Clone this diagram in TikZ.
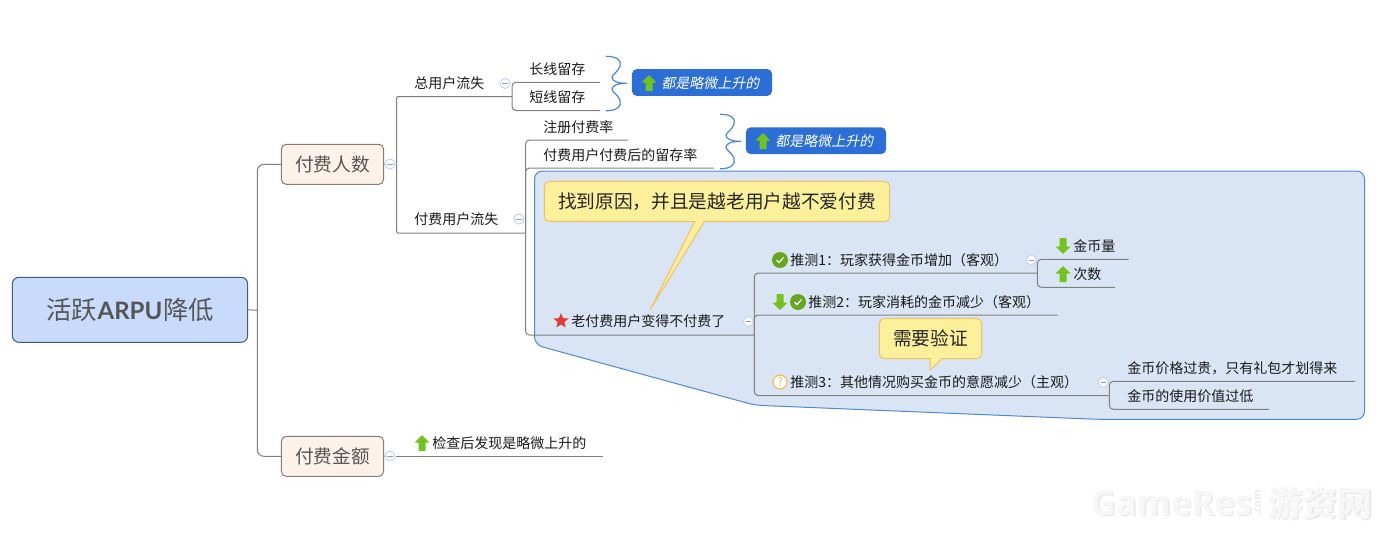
\documentclass[tikz,border=0pt]{standalone}
\usepackage{fontspec}
\setmainfont{Noto Sans CJK SC}
\newfontfamily\latinroot{Lato}[BoldFont=* Bold]
\newfontfamily\slantcjk[FakeSlant=0.2]{Noto Sans CJK SC}
\newfontfamily\markfont{Open Sans}
\usetikzlibrary{shapes.geometric}
\definecolor{linegrey}{HTML}{808080}
\definecolor{groupfill}{HTML}{D9E5F4}
\definecolor{groupedge}{HTML}{4F8BCB}
\definecolor{rootfill}{HTML}{C8DBFB}
\definecolor{rootedge}{HTML}{3F5A8C}
\definecolor{mainfill}{HTML}{FDF2E9}
\definecolor{mainedge}{HTML}{8A7A70}
\definecolor{tagblue}{HTML}{2B6FD6}
\definecolor{bracecol}{HTML}{4A86DC}
\definecolor{notefill}{HTML}{FDF09B}
\definecolor{noteedge}{HTML}{F2C062}
\definecolor{icongreen}{HTML}{72C41C}
\definecolor{checkgreen}{HTML}{67A621}
\definecolor{staricon}{HTML}{E53935}
\definecolor{darktext}{HTML}{555555}
\definecolor{collapseedge}{HTML}{C5D3F0}
\definecolor{collapsebar}{HTML}{8F9DB8}
\def\x{0.026359}
\def\y{-0.026359}
\tikzset{
  link/.style={draw=linegrey,line width=0.75pt,rounded corners=3pt},
  trunk/.style={link,rounded corners=5pt},
  sqlink/.style={link,rounded corners=1pt},
  topic/.style={anchor=west,inner sep=0,xshift=-0.75pt,text=black!90,font=\fontsize{10.5}{12}\selectfont,text height=9pt,text depth=1.5pt},
  rootbox/.style={draw=rootedge,fill=rootfill,rounded corners=5pt,line width=0.75pt,text=darktext,
    minimum width=176.5pt,minimum height=48.75pt,inner sep=0,font=\fontsize{19}{21}\selectfont},
  mainbox/.style={draw=mainedge,fill=mainfill,rounded corners=3.5pt,line width=0.75pt,text=darktext,
    minimum width=76.5pt,minimum height=30pt,inner sep=0,font=\fontsize{14}{16}\selectfont},
  tagbox/.style={fill=tagblue,rounded corners=3.5pt,minimum width=105pt,minimum height=20pt,inner sep=0},
  tagtext/.style={anchor=west,inner sep=0,text=white,font=\fontsize{10.5}{12}\slantcjk},
  notebox/.style={draw=noteedge,fill=notefill,rounded corners=4pt,line width=0.75pt,inner sep=0,
    text=black!85,font=\fontsize{14}{16}\selectfont},
  notetail/.style={draw=noteedge,fill=notefill,line width=0.75pt},
  collapse/.style={circle,draw=collapseedge,fill=white,line width=0.75pt,minimum size=7.5pt,inner sep=0,
    path picture={\draw[collapsebar,line width=0.75pt] (-2pt,0) -- (2pt,0);}},
  staricon/.style={star,star points=5,star point ratio=2.3,fill=staricon,minimum size=12pt,inner sep=0},
  askicon/.style={circle,draw=noteedge,fill=white,line width=1pt,minimum size=10.5pt,inner sep=0,
    text=noteedge,font=\fontsize{9}{9}\selectfont},
  arrowup/.pic={
    \fill[icongreen,rounded corners=0.5pt] (0*\x,-8*\y) -- (7.5*\x,-0.5*\y) -- (3.5*\x,-0.5*\y) -- (3.5*\x,8*\y)
      -- (-3.5*\x,8*\y) -- (-3.5*\x,-0.5*\y) -- (-7.5*\x,-0.5*\y) -- cycle;
  },
  arrowdown/.pic={
    \fill[icongreen,rounded corners=0.5pt] (0*\x,8*\y) -- (7.5*\x,0.5*\y) -- (3.5*\x,0.5*\y) -- (3.5*\x,-8*\y)
      -- (-3.5*\x,-8*\y) -- (-3.5*\x,0.5*\y) -- (-7.5*\x,0.5*\y) -- cycle;
  },
  checkicon/.pic={
    \fill[checkgreen] (0,0) circle (6pt);
    \draw[white,line width=0.9pt] (-3.5*\x,0*\y) -- (-1*\x,2.5*\y) -- (3.5*\x,-2.5*\y);
  },
  bracket/.pic={
    \draw[bracecol,line width=0.9pt] (0*\x,-27*\y) .. controls (11*\x,-27*\y) and (16*\x,-23*\y) .. (14*\x,-17*\y)
      .. controls (12*\x,-11*\y) and (6*\x,-9*\y) .. (6*\x,-6*\y)
      .. controls (6*\x,-2*\y) and (12*\x,0*\y) .. (21*\x,0*\y)
      .. controls (12*\x,0*\y) and (6*\x,2*\y) .. (6*\x,6*\y)
      .. controls (6*\x,9*\y) and (12*\x,11*\y) .. (14*\x,17*\y)
      .. controls (16*\x,23*\y) and (11*\x,27.5*\y) .. (0*\x,27.5*\y);
  }
}
\begin{document}
\begin{tikzpicture}
    \useasboundingbox (0*\x,0*\y) rectangle (1397*\x,535*\y);
    % watermark
    \node [inner sep=0,anchor=west,text=black!9,font=\fontsize{26}{28}\markfont\bfseries] (W0) at (1092*\x,504.5*\y) {GameRes};
    \node [inner sep=0,anchor=west,text=black!3,font=\fontsize{26}{28}\markfont\bfseries] (W1) at (1090.5*\x,503*\y) {GameRes};
    \node [inner sep=0,rotate=90,text=black!8,font=\fontsize{8}{9}\markfont\bfseries] (W2) at (1258*\x,503*\y) {.com};
    \node [inner sep=0,anchor=west,text=black!9,font=\fontsize{26}{28}\selectfont\bfseries] (W3) at (1269.5*\x,504.5*\y) {游资网};
    \node [inner sep=0,anchor=west,text=black!3,font=\fontsize{26}{28}\selectfont\bfseries] (W4) at (1268*\x,503*\y) {游资网};
    % boundary
    \draw [fill=groupfill,draw=groupedge,line width=0.75pt,rounded corners=6pt]
      (534.5*\x,171*\y) -- (1364.5*\x,171*\y) -- (1364.5*\x,419.3*\y) -- (1097*\x,419.3*\y)
      -- (755*\x,405.2*\y) -- (534.5*\x,344.7*\y) -- cycle;
    % main topics
    \node [rootbox] (A0_0) at (130*\x,309.8*\y) {\raisebox{-0.75pt}{活跃\kern0.5pt{\latinroot\fontsize{18}{20}\selectfont\bfseries ARPU}\kern0.5pt降低}};
    \node [mainbox] (A1_0) at (332.5*\x,164.3*\y) {付费人数};
    \node [mainbox] (A1_1) at (332.5*\x,456.3*\y) {付费金额};
    % collapse marks
    \node [collapse] (C1_0) at (390*\x,164*\y) {};
    \node [collapse] (C1_1) at (390*\x,456*\y) {};
    \node [collapse] (C2_0) at (505*\x,83.5*\y) {};
    \node [collapse] (C2_1) at (519*\x,219*\y) {};
    \node [collapse] (C3_0) at (748.3*\x,321.5*\y) {};
    \node [collapse] (C4_0) at (1031.3*\x,260*\y) {};
    \node [collapse] (C4_1) at (1103.3*\x,382.3*\y) {};
    % subtopics
    \node [topic] (A2_0) at (415*\x,83*\y) {总用户流失};
    \node [topic] (A2_1) at (415*\x,219.5*\y) {付费用户流失};
    \node [topic] (A2_2) at (433*\x,443*\y) {检查后发现是略微上升的};
    \node [topic] (A3_0) at (530*\x,69*\y) {长线留存};
    \node [topic] (A3_1) at (530*\x,97*\y) {短线留存};
    \node [topic] (A3_2) at (544*\x,127*\y) {注册付费率};
    \node [topic] (A3_3) at (544*\x,155*\y) {付费用户付费后的留存率};
    \node [topic] (A3_4) at (572*\x,321*\y) {老付费用户变得不付费了};
    \node [topic] (A4_0) at (791*\x,260*\y) {推测1：玩家获得金币增加（客观）};
    \node [topic] (A4_1) at (809*\x,302*\y) {推测2：玩家消耗的金币减少（客观）};
    \node [topic] (A4_2) at (791*\x,382*\y) {推测3：其他情况购买金币的意愿减少（主观）};
    \node [topic] (A5_0) at (1074*\x,246*\y) {金币量};
    \node [topic] (A5_1) at (1074*\x,274*\y) {次数};
    \node [topic] (A5_2) at (1128*\x,368*\y) {金币价格过贵，只有礼包才划得来};
    \node [topic] (A5_3) at (1128*\x,396*\y) {金币的使用价值过低};
    % junctions and line ends
    \coordinate (J0) at (257.3*\x,310.3*\y);
    \coordinate (J1) at (396.5*\x,164*\y);
    \coordinate (J2_0) at (512*\x,96.5*\y);
    \coordinate (J2_1) at (525.5*\x,233*\y);
    \coordinate (J3) at (754.3*\x,335*\y);
    \coordinate (J4_0) at (1037.3*\x,273*\y);
    \coordinate (J4_2) at (1109.3*\x,395.7*\y);
    \coordinate (E2_2) at (603*\x,456*\y);
    \coordinate (E3_0) at (600*\x,82.3*\y);
    \coordinate (E3_1) at (600*\x,110.5*\y);
    \coordinate (E3_2) at (628*\x,140*\y);
    \coordinate (E3_3) at (714*\x,168*\y);
    \coordinate (E4_1) at (1057.7*\x,315*\y);
    \coordinate (E5_0) at (1128.7*\x,259.3*\y);
    \coordinate (E5_1) at (1115*\x,287.3*\y);
    \coordinate (E5_2) at (1355*\x,381.3*\y);
    \coordinate (E5_3) at (1269*\x,409.3*\y);
    % connectors
    \draw [link] (A0_0.east) -- (J0);
    \draw [trunk] (J0) |- (A1_0.west);
    \draw [trunk] (J0) |- (A1_1.west);
    \draw [link] (A1_0.east) -- (C1_0.west);
    \draw [link] (C1_0.east) -- (J1);
    \draw [link] (A1_1.east) -- (C1_1.west);
    \draw [link] (C1_1.east) -- (E2_2);
    \draw [sqlink] (J1) |- (J2_0);
    \draw [sqlink] (J1) |- (J2_1);
    \draw [link] (J2_0) |- (E3_0);
    \draw [link] (J2_0) |- (E3_1);
    \draw [link] (J2_1) |- (E3_2);
    \draw [link] (J2_1) |- (E3_3);
    \draw [link] (J2_1) |- (J3);
    \draw [link] (J3) |- (J4_0);
    \draw [link] (J3) |- (E4_1);
    \draw [link] (J3) |- (J4_2);
    \draw [link] (J4_0) |- (E5_0);
    \draw [link] (J4_0) |- (E5_1);
    \draw [link] (J4_2) |- (E5_2);
    \draw [link] (J4_2) |- (E5_3);
    % icons
    \pic at (422*\x,443*\y) {arrowup};
    \pic at (1063*\x,246*\y) {arrowdown};
    \pic at (1063*\x,274*\y) {arrowup};
    \pic at (780*\x,302*\y) {arrowdown};
    \pic at (780*\x,260*\y) {checkicon};
    \pic at (798*\x,302*\y) {checkicon};
    \node [staricon] (S0) at (561*\x,321*\y) {};
    \node [askicon] (Q0) at (780*\x,382*\y) {?};
    % braces and their labels
    \pic at (606*\x,83.3*\y) {bracket};
    \pic at (720*\x,141.3*\y) {bracket};
    \node [tagbox] (T0) at (702*\x,82.5*\y) {};
    \node [tagbox] (T1) at (816*\x,140.7*\y) {};
    \pic at (649*\x,83*\y) {arrowup};
    \pic at (763*\x,141*\y) {arrowup};
    \node [tagtext] (T0_t) at (661*\x,83*\y) {都是略微上升的};
    \node [tagtext] (T1_t) at (775*\x,141*\y) {都是略微上升的};
    % callouts
    \node [notebox,minimum width=259pt,minimum height=30.3pt] (N0) at (717*\x,201.5*\y) {找到原因，并且是越老用户越不爱付费};
    \node [notebox,minimum width=76.8pt,minimum height=30.3pt] (N1) at (930.5*\x,338.5*\y) {需要验证};
    \coordinate (N0_a) at (695*\x,221*\y);
    \coordinate (N0_b) at (704.5*\x,221*\y);
    \coordinate (N0_c) at (650*\x,310*\y);
    \coordinate (N1_a) at (930*\x,358*\y);
    \coordinate (N1_b) at (943*\x,358*\y);
    \coordinate (N1_c) at (930*\x,370*\y);
    \path [notetail] (N0_a) -- (N0_c) -- (N0_b);
    \path [notetail] (N1_a) -- (N1_c) -- (N1_b);
\end{tikzpicture}
\end{document}
